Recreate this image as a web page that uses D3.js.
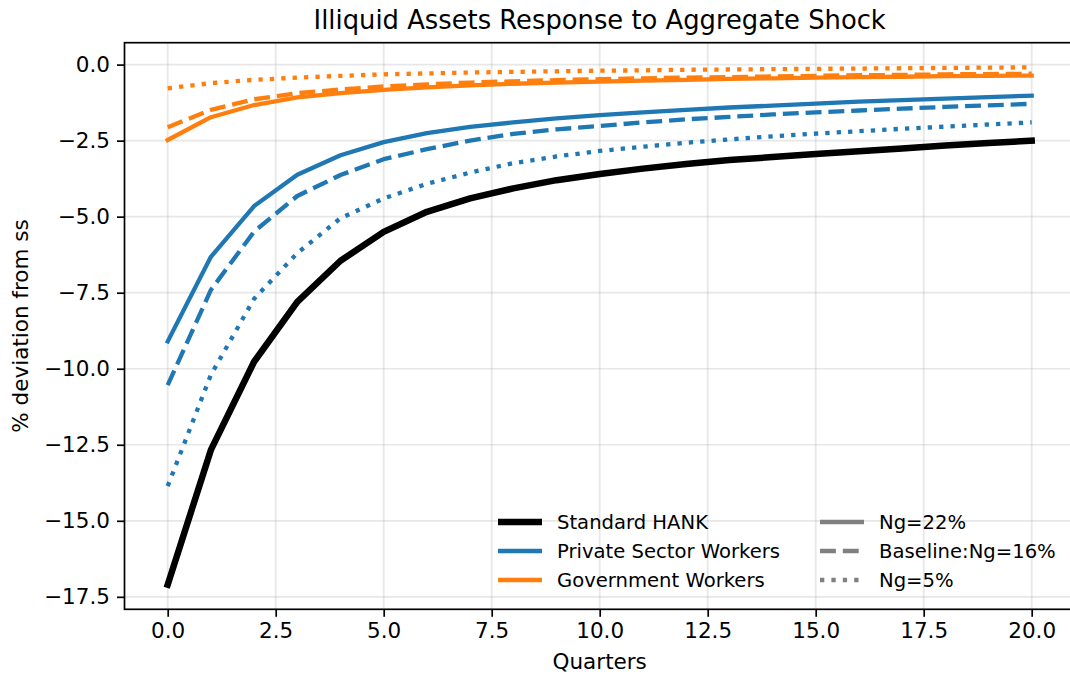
<!DOCTYPE html>
<html>
<head>
<meta charset="utf-8">
<script src="https://cdn.jsdelivr.net/npm/d3@7"></script>
<style>
  body { margin: 0; background: #fff; }
  text { font-family: "DejaVu Sans", sans-serif; fill: #000; }
</style>
</head>
<body>
<div id="chart"></div>
<script>
// Quarters after the shock
const quarters = d3.range(0, 21);

// Standard HANK (black)
const hank = [-17.1, -12.67, -9.77, -7.8, -6.45, -5.5, -4.84, -4.4, -4.07, -3.8, -3.6,
  -3.42, -3.27, -3.14, -3.04, -2.94, -2.85, -2.76, -2.66, -2.58, -2.5];

// Private sector workers for each Ng
const private22 = [-9.1, -6.32, -4.65, -3.62, -2.98, -2.55, -2.25, -2.05, -1.9, -1.77, -1.66,
  -1.57, -1.49, -1.41, -1.35, -1.28, -1.22, -1.17, -1.12, -1.07, -1.02];
const private16 = [-10.54, -7.41, -5.49, -4.32, -3.63, -3.11, -2.78, -2.5, -2.28, -2.13, -2.02,
  -1.9, -1.8, -1.72, -1.64, -1.57, -1.51, -1.45, -1.39, -1.34, -1.29];
const private5 = [-13.86, -10.2, -7.7, -6.2, -5.05, -4.4, -3.92, -3.55, -3.24, -3.02, -2.84,
  -2.7, -2.57, -2.46, -2.36, -2.27, -2.19, -2.11, -2.04, -1.97, -1.9];

// Government workers for each Ng
const gov22 = [-2.48, -1.73, -1.33, -1.08, -0.94, -0.83, -0.75, -0.68, -0.63, -0.59, -0.56,
  -0.53, -0.5, -0.47, -0.45, -0.43, -0.41, -0.4, -0.38, -0.37, -0.36];
const gov16 = [-2.06, -1.49, -1.14, -0.94, -0.82, -0.72, -0.65, -0.59, -0.55, -0.51, -0.48,
  -0.45, -0.43, -0.41, -0.39, -0.37, -0.35, -0.34, -0.32, -0.31, -0.3];
const gov5 = [-0.78, -0.61, -0.5, -0.43, -0.37, -0.32, -0.29, -0.26, -0.24, -0.22, -0.2,
  -0.19, -0.17, -0.16, -0.15, -0.14, -0.13, -0.12, -0.11, -0.1, -0.09];

// Tick values
const xTicks = [0, 2.5, 5, 7.5, 10, 12.5, 15, 17.5, 20];
const yTicks = [0, -2.5, -5, -7.5, -10, -12.5, -15, -17.5];

// Legend entries
const groupLabels = ["Standard HANK", "Private Sector Workers", "Government Workers"];
const styleLabels = ["Ng=22%", "Baseline:Ng=16%", "Ng=5%"];

const width = 1070, height = 679;
const blue = "#1f77b4", orange = "#ff7f0e";
const dashed = "15.9,6.9", dotted = "4.3,7.1";

const svg = d3.select("#chart").append("svg")
  .attr("width", width)
  .attr("height", height);

// Axis scales (matplotlib-like 5% margins)
const x = d3.scaleLinear().domain([-1, 21]).range([124.5, 1074.9]);
const y = d3.scaleLinear().domain([-17.91, 0.72]).range([609.3, 42.7]);

svg.append("defs").append("clipPath").attr("id", "plotclip")
  .append("rect")
  .attr("x", x.range()[0]).attr("y", y.range()[1])
  .attr("width", x.range()[1] - x.range()[0])
  .attr("height", y.range()[0] - y.range()[1]);

// Grid
const grid = svg.append("g").attr("stroke", "#b0b0b0").attr("stroke-opacity", 0.3).attr("stroke-width", 1.7);
grid.selectAll(".gx").data(xTicks).enter().append("line")
  .attr("x1", d => x(d)).attr("x2", d => x(d))
  .attr("y1", y.range()[1]).attr("y2", y.range()[0]);
grid.selectAll(".gy").data(yTicks).enter().append("line")
  .attr("x1", x.range()[0]).attr("x2", x.range()[1])
  .attr("y1", d => y(d)).attr("y2", d => y(d));

// Series
const series = [
  { values: private22, color: blue, width: 4.3, dash: null },
  { values: private16, color: blue, width: 4.3, dash: dashed },
  { values: private5, color: blue, width: 4.3, dash: dotted },
  { values: gov22, color: orange, width: 4.3, dash: null },
  { values: gov16, color: orange, width: 4.3, dash: dashed },
  { values: gov5, color: orange, width: 4.3, dash: dotted },
  { values: hank, color: "#000", width: 6.5, dash: null }
];

const line = d3.line()
  .x((d, i) => x(quarters[i]))
  .y(d => y(d));

svg.append("g").attr("clip-path", "url(#plotclip)")
  .selectAll("path")
  .data(series)
  .enter()
  .append("path")
  .attr("d", d => line(d.values))
  .attr("fill", "none")
  .attr("stroke", d => d.color)
  .attr("stroke-width", d => d.width)
  .attr("stroke-linejoin", "round")
  .attr("stroke-linecap", d => d.dash ? "butt" : "square")
  .attr("stroke-dasharray", d => d.dash);

// Axes
const fmt = d3.format(".1f");
const xAxis = svg.append("g")
  .attr("transform", `translate(0,${y.range()[0]})`)
  .call(d3.axisBottom(x).tickValues(xTicks).tickFormat(fmt).tickSizeOuter(0).tickSize(7.5).tickPadding(6));
const yAxis = svg.append("g")
  .attr("transform", `translate(${x.range()[0]},0)`)
  .call(d3.axisLeft(y).tickValues(yTicks).tickFormat(fmt).tickSizeOuter(0).tickSize(7.5).tickPadding(7));

[xAxis, yAxis].forEach(a => {
  a.select(".domain").remove();
  a.selectAll(".tick line").attr("stroke", "#000").attr("stroke-width", 1.7);
  a.selectAll("text").attr("font-size", "21.5px").attr("font-family", "DejaVu Sans, sans-serif");
});

// Spines (left, bottom, top; right sits off canvas)
svg.append("rect")
  .attr("x", x.range()[0]).attr("y", y.range()[1])
  .attr("width", x.range()[1] - x.range()[0])
  .attr("height", y.range()[0] - y.range()[1])
  .attr("fill", "none").attr("stroke", "#000").attr("stroke-width", 1.7);

// Title and axis labels
svg.append("text")
  .attr("x", (x.range()[0] + x.range()[1]) / 2).attr("y", 29)
  .attr("text-anchor", "middle").attr("font-size", "25.8px")
  .text("Illiquid Assets Response to Aggregate Shock");

svg.append("text")
  .attr("x", (x.range()[0] + x.range()[1]) / 2).attr("y", 669)
  .attr("text-anchor", "middle").attr("font-size", "21.5px")
  .text("Quarters");

svg.append("text")
  .attr("transform", `translate(28,${(y.range()[0] + y.range()[1]) / 2}) rotate(-90)`)
  .attr("text-anchor", "middle").attr("font-size", "21.5px")
  .text("% deviation from ss");

// Legend
const legend = svg.append("g");
const rowY = [522, 551, 580];
const groupColors = ["#000", blue, orange];
const groupWidths = [6.5, 4.3, 4.3];
groupLabels.forEach((lab, i) => {
  legend.append("line")
    .attr("x1", 498).attr("x2", 542).attr("y1", rowY[i]).attr("y2", rowY[i])
    .attr("stroke", groupColors[i]).attr("stroke-width", groupWidths[i]);
  legend.append("text")
    .attr("x", 557).attr("y", rowY[i]).attr("dy", "0.35em")
    .attr("font-size", "19.6px").text(lab);
});
const styleDash = [null, dashed, dotted];
styleLabels.forEach((lab, i) => {
  legend.append("line")
    .attr("x1", 820).attr("x2", 864).attr("y1", rowY[i]).attr("y2", rowY[i])
    .attr("stroke", "#808080").attr("stroke-width", 4.3)
    .attr("stroke-dasharray", styleDash[i]);
  legend.append("text")
    .attr("x", 879).attr("y", rowY[i]).attr("dy", "0.35em")
    .attr("font-size", "19.6px").text(lab);
});
</script>
</body>
</html>
